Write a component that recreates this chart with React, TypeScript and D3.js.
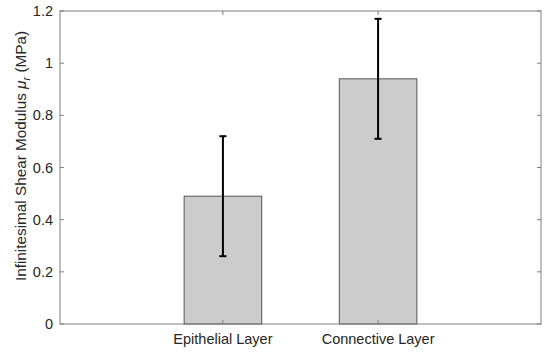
import React, { useEffect, useRef } from 'react';
import * as d3 from 'd3';

const categories = ['Epithelial Layer', 'Connective Layer'];
const means = [0.49, 0.94];
const lower = [0.26, 0.71];
const upper = [0.72, 1.17];
const yTicks = [0, 0.2, 0.4, 0.6, 0.8, 1, 1.2];

const W = 550;
const H = 352;
const m = { left: 60, right: 9, top: 11, bottom: 28 };

const App: React.FC = () => {
  const svgRef = useRef<SVGSVGElement>(null);

  useEffect(() => {
    if (!svgRef.current) return;
    const svg = d3.select(svgRef.current);
    svg.selectAll('*').remove();
    const font = 'Liberation Sans, Arial, Helvetica, sans-serif';
    const axisColor = '#808080';

    const x = d3.scaleLinear().domain([-0.05, 3.05]).range([m.left, W - m.right]);
    const y = d3.scaleLinear().domain([0, 1.2]).range([H - m.bottom, m.top]);
    const barW = 0.5;

    const g = svg.append('g');

    // bars
    means.forEach((v, i) => {
      const c = i + 1;
      g.append('rect')
        .attr('x', x(c - barW / 2)).attr('y', y(v))
        .attr('width', x(c + barW / 2) - x(c - barW / 2)).attr('height', y(0) - y(v))
        .attr('fill', '#cccccc').attr('stroke', '#555555').attr('stroke-width', 1);
    });

    // error bars
    means.forEach((_, i) => {
      const cx = x(i + 1);
      g.append('line').attr('x1', cx).attr('x2', cx).attr('y1', y(lower[i])).attr('y2', y(upper[i]))
        .attr('stroke', '#000').attr('stroke-width', 2);
      [lower[i], upper[i]].forEach(v => {
        g.append('line').attr('x1', cx - 3.5).attr('x2', cx + 3.5).attr('y1', y(v)).attr('y2', y(v))
          .attr('stroke', '#000').attr('stroke-width', 2);
      });
    });

    // box
    g.append('rect')
      .attr('x', m.left).attr('y', m.top)
      .attr('width', W - m.right - m.left).attr('height', H - m.bottom - m.top)
      .attr('fill', 'none').attr('stroke', axisColor).attr('stroke-width', 1);

    // y ticks
    yTicks.forEach(t => {
      const yy = y(t);
      g.append('line').attr('x1', m.left).attr('x2', m.left + 4).attr('y1', yy).attr('y2', yy).attr('stroke', axisColor);
      g.append('line').attr('x1', W - m.right).attr('x2', W - m.right - 4).attr('y1', yy).attr('y2', yy).attr('stroke', axisColor);
      g.append('text').attr('x', m.left - 7).attr('y', yy).attr('dy', '0.35em')
        .attr('text-anchor', 'end').attr('font-family', font).attr('font-size', 14.5).attr('fill', '#262626')
        .text(d3.format('~g')(t));
    });

    // x ticks
    categories.forEach((c, i) => {
      const xx = x(i + 1);
      g.append('line').attr('x1', xx).attr('x2', xx).attr('y1', H - m.bottom).attr('y2', H - m.bottom - 4).attr('stroke', axisColor);
      g.append('line').attr('x1', xx).attr('x2', xx).attr('y1', m.top).attr('y2', m.top + 4).attr('stroke', axisColor);
      g.append('text').attr('x', xx).attr('y', H - m.bottom + 15).attr('dy', '0.35em')
        .attr('text-anchor', 'middle').attr('font-family', font).attr('font-size', 14.5).attr('fill', '#262626')
        .text(c);
    });

    // y label
    const lbl = g.append('text')
      .attr('transform', `translate(26,156) rotate(-90)`)
      .attr('text-anchor', 'middle').attr('font-family', font).attr('font-size', 15.3).attr('fill', '#262626');
    lbl.append('tspan').text('Infinitesimal Shear Modulus ');
    lbl.append('tspan').attr('font-style', 'italic').text('μ');
    lbl.append('tspan').attr('font-style', 'italic').attr('font-size', 11).attr('dy', 4).text('r');
    lbl.append('tspan').attr('dy', -4).text(' (MPa)');
  }, []);

  return <svg ref={svgRef} width={W} height={H} style={{ display: 'block', position: 'absolute', left: 0, top: 0, background: '#fff' }} />;
};

export default App;
